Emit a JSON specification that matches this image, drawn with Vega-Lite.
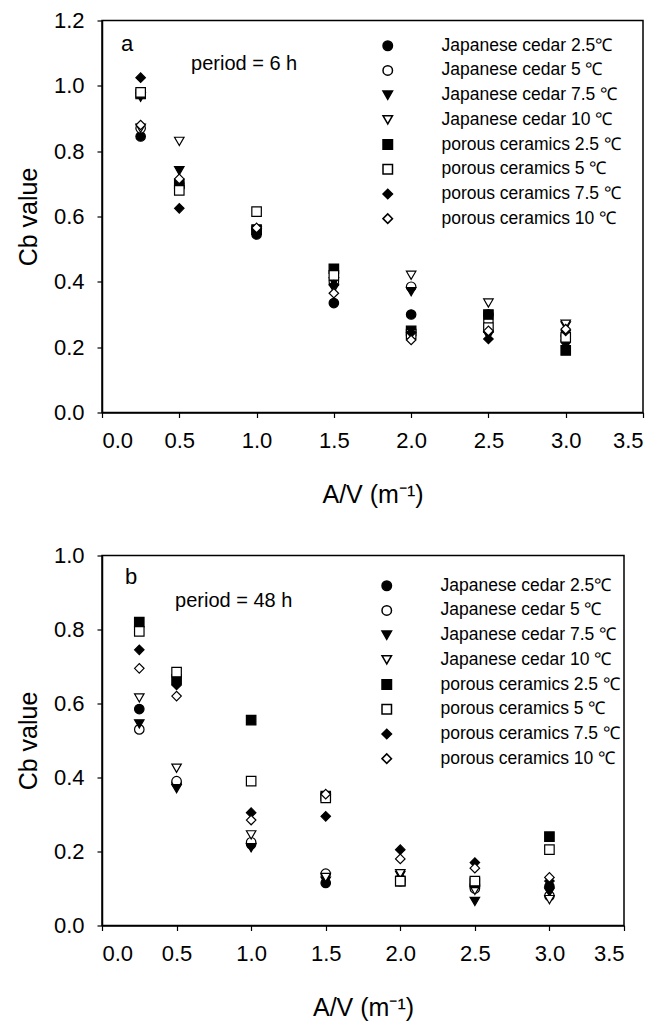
{
  "$schema": "https://vega.github.io/schema/vega-lite/v6.json",
  "padding": {"left": 15, "top": 8.5, "right": 5, "bottom": 5},
  "background": "white",
  "datasets": {
    "a": [
      {"series": "Japanese cedar 2.5℃", "av": 0.25, "cb": 0.845},
      {"series": "Japanese cedar 2.5℃", "av": 0.5, "cb": 0.70},
      {"series": "Japanese cedar 2.5℃", "av": 1.0, "cb": 0.545},
      {"series": "Japanese cedar 2.5℃", "av": 1.5, "cb": 0.335},
      {"series": "Japanese cedar 2.5℃", "av": 2.0, "cb": 0.30},
      {"series": "Japanese cedar 2.5℃", "av": 2.5, "cb": 0.30},
      {"series": "Japanese cedar 2.5℃", "av": 3.0, "cb": 0.22},
      {"series": "Japanese cedar 5 ℃", "av": 0.25, "cb": 0.87},
      {"series": "Japanese cedar 5 ℃", "av": 0.5, "cb": 0.69},
      {"series": "Japanese cedar 5 ℃", "av": 1.0, "cb": 0.555},
      {"series": "Japanese cedar 5 ℃", "av": 1.5, "cb": 0.40},
      {"series": "Japanese cedar 5 ℃", "av": 2.0, "cb": 0.385},
      {"series": "Japanese cedar 5 ℃", "av": 2.5, "cb": 0.28},
      {"series": "Japanese cedar 5 ℃", "av": 3.0, "cb": 0.235},
      {"series": "Japanese cedar 7.5 ℃", "av": 0.25, "cb": 0.965},
      {"series": "Japanese cedar 7.5 ℃", "av": 0.5, "cb": 0.74},
      {"series": "Japanese cedar 7.5 ℃", "av": 1.0, "cb": 0.55},
      {"series": "Japanese cedar 7.5 ℃", "av": 1.5, "cb": 0.40},
      {"series": "Japanese cedar 7.5 ℃", "av": 2.0, "cb": 0.37},
      {"series": "Japanese cedar 7.5 ℃", "av": 2.5, "cb": 0.235},
      {"series": "Japanese cedar 7.5 ℃", "av": 3.0, "cb": 0.265},
      {"series": "Japanese cedar 10 ℃", "av": 0.25, "cb": 0.87},
      {"series": "Japanese cedar 10 ℃", "av": 0.5, "cb": 0.83},
      {"series": "Japanese cedar 10 ℃", "av": 1.0, "cb": 0.555},
      {"series": "Japanese cedar 10 ℃", "av": 1.5, "cb": 0.38},
      {"series": "Japanese cedar 10 ℃", "av": 2.0, "cb": 0.42},
      {"series": "Japanese cedar 10 ℃", "av": 2.5, "cb": 0.335},
      {"series": "Japanese cedar 10 ℃", "av": 3.0, "cb": 0.27},
      {"series": "porous ceramics 2.5 ℃", "av": 0.25, "cb": 0.975},
      {"series": "porous ceramics 2.5 ℃", "av": 0.5, "cb": 0.70},
      {"series": "porous ceramics 2.5 ℃", "av": 1.0, "cb": 0.56},
      {"series": "porous ceramics 2.5 ℃", "av": 1.5, "cb": 0.44},
      {"series": "porous ceramics 2.5 ℃", "av": 2.0, "cb": 0.25},
      {"series": "porous ceramics 2.5 ℃", "av": 2.5, "cb": 0.30},
      {"series": "porous ceramics 2.5 ℃", "av": 3.0, "cb": 0.19},
      {"series": "porous ceramics 5 ℃", "av": 0.25, "cb": 0.98},
      {"series": "porous ceramics 5 ℃", "av": 0.5, "cb": 0.68},
      {"series": "porous ceramics 5 ℃", "av": 1.0, "cb": 0.615},
      {"series": "porous ceramics 5 ℃", "av": 1.5, "cb": 0.42},
      {"series": "porous ceramics 5 ℃", "av": 2.0, "cb": 0.24},
      {"series": "porous ceramics 5 ℃", "av": 2.5, "cb": 0.26},
      {"series": "porous ceramics 5 ℃", "av": 3.0, "cb": 0.23},
      {"series": "porous ceramics 7.5 ℃", "av": 0.25, "cb": 1.025},
      {"series": "porous ceramics 7.5 ℃", "av": 0.5, "cb": 0.625},
      {"series": "porous ceramics 7.5 ℃", "av": 1.0, "cb": 0.56},
      {"series": "porous ceramics 7.5 ℃", "av": 1.5, "cb": 0.39},
      {"series": "porous ceramics 7.5 ℃", "av": 2.0, "cb": 0.245},
      {"series": "porous ceramics 7.5 ℃", "av": 2.5, "cb": 0.225},
      {"series": "porous ceramics 7.5 ℃", "av": 3.0, "cb": 0.25},
      {"series": "porous ceramics 10 ℃", "av": 0.25, "cb": 0.88},
      {"series": "porous ceramics 10 ℃", "av": 0.5, "cb": 0.715},
      {"series": "porous ceramics 10 ℃", "av": 1.0, "cb": 0.565},
      {"series": "porous ceramics 10 ℃", "av": 1.5, "cb": 0.365},
      {"series": "porous ceramics 10 ℃", "av": 2.0, "cb": 0.222},
      {"series": "porous ceramics 10 ℃", "av": 2.5, "cb": 0.25},
      {"series": "porous ceramics 10 ℃", "av": 3.0, "cb": 0.255}
    ],
    "b": [
      {"series": "Japanese cedar 2.5℃", "av": 0.25, "cb": 0.585},
      {"series": "Japanese cedar 2.5℃", "av": 0.5, "cb": 0.385},
      {"series": "Japanese cedar 2.5℃", "av": 1.0, "cb": 0.22},
      {"series": "Japanese cedar 2.5℃", "av": 1.5, "cb": 0.115},
      {"series": "Japanese cedar 2.5℃", "av": 2.0, "cb": 0.125},
      {"series": "Japanese cedar 2.5℃", "av": 2.5, "cb": 0.11},
      {"series": "Japanese cedar 2.5℃", "av": 3.0, "cb": 0.105},
      {"series": "Japanese cedar 5 ℃", "av": 0.25, "cb": 0.53},
      {"series": "Japanese cedar 5 ℃", "av": 0.5, "cb": 0.39},
      {"series": "Japanese cedar 5 ℃", "av": 1.0, "cb": 0.225},
      {"series": "Japanese cedar 5 ℃", "av": 1.5, "cb": 0.14},
      {"series": "Japanese cedar 5 ℃", "av": 2.0, "cb": 0.12},
      {"series": "Japanese cedar 5 ℃", "av": 2.5, "cb": 0.10},
      {"series": "Japanese cedar 5 ℃", "av": 3.0, "cb": 0.08},
      {"series": "Japanese cedar 7.5 ℃", "av": 0.25, "cb": 0.545},
      {"series": "Japanese cedar 7.5 ℃", "av": 0.5, "cb": 0.37},
      {"series": "Japanese cedar 7.5 ℃", "av": 1.0, "cb": 0.21},
      {"series": "Japanese cedar 7.5 ℃", "av": 1.5, "cb": 0.12},
      {"series": "Japanese cedar 7.5 ℃", "av": 2.0, "cb": 0.135},
      {"series": "Japanese cedar 7.5 ℃", "av": 2.5, "cb": 0.065},
      {"series": "Japanese cedar 7.5 ℃", "av": 3.0, "cb": 0.09},
      {"series": "Japanese cedar 10 ℃", "av": 0.25, "cb": 0.615},
      {"series": "Japanese cedar 10 ℃", "av": 0.5, "cb": 0.425},
      {"series": "Japanese cedar 10 ℃", "av": 1.0, "cb": 0.245},
      {"series": "Japanese cedar 10 ℃", "av": 1.5, "cb": 0.13},
      {"series": "Japanese cedar 10 ℃", "av": 2.0, "cb": 0.14},
      {"series": "Japanese cedar 10 ℃", "av": 2.5, "cb": 0.095},
      {"series": "Japanese cedar 10 ℃", "av": 3.0, "cb": 0.07},
      {"series": "porous ceramics 2.5 ℃", "av": 0.25, "cb": 0.82},
      {"series": "porous ceramics 2.5 ℃", "av": 0.5, "cb": 0.665},
      {"series": "porous ceramics 2.5 ℃", "av": 1.0, "cb": 0.555},
      {"series": "porous ceramics 2.5 ℃", "av": 1.5, "cb": 0.35},
      {"series": "porous ceramics 2.5 ℃", "av": 2.0, "cb": 0.12},
      {"series": "porous ceramics 2.5 ℃", "av": 2.5, "cb": 0.115},
      {"series": "porous ceramics 2.5 ℃", "av": 3.0, "cb": 0.24},
      {"series": "porous ceramics 5 ℃", "av": 0.25, "cb": 0.795},
      {"series": "porous ceramics 5 ℃", "av": 0.5, "cb": 0.685},
      {"series": "porous ceramics 5 ℃", "av": 1.0, "cb": 0.39},
      {"series": "porous ceramics 5 ℃", "av": 1.5, "cb": 0.345},
      {"series": "porous ceramics 5 ℃", "av": 2.0, "cb": 0.12},
      {"series": "porous ceramics 5 ℃", "av": 2.5, "cb": 0.12},
      {"series": "porous ceramics 5 ℃", "av": 3.0, "cb": 0.205},
      {"series": "porous ceramics 7.5 ℃", "av": 0.25, "cb": 0.745},
      {"series": "porous ceramics 7.5 ℃", "av": 0.5, "cb": 0.65},
      {"series": "porous ceramics 7.5 ℃", "av": 1.0, "cb": 0.305},
      {"series": "porous ceramics 7.5 ℃", "av": 1.5, "cb": 0.295},
      {"series": "porous ceramics 7.5 ℃", "av": 2.0, "cb": 0.205},
      {"series": "porous ceramics 7.5 ℃", "av": 2.5, "cb": 0.17},
      {"series": "porous ceramics 7.5 ℃", "av": 3.0, "cb": 0.12},
      {"series": "porous ceramics 10 ℃", "av": 0.25, "cb": 0.695},
      {"series": "porous ceramics 10 ℃", "av": 0.5, "cb": 0.62},
      {"series": "porous ceramics 10 ℃", "av": 1.0, "cb": 0.285},
      {"series": "porous ceramics 10 ℃", "av": 1.5, "cb": 0.355},
      {"series": "porous ceramics 10 ℃", "av": 2.0, "cb": 0.18},
      {"series": "porous ceramics 10 ℃", "av": 2.5, "cb": 0.155},
      {"series": "porous ceramics 10 ℃", "av": 3.0, "cb": 0.13}
    ]
  },
  "resolve": {
    "scale": {"x": "independent", "y": "independent", "shape": "independent", "fill": "independent"},
    "legend": {"shape": "independent", "fill": "independent"}
  },
  "spacing": 35,
  "vconcat": [
    {
      "width": 541,
      "height": 392,
      "layer": [
        {
          "data": {"name": "a"},
          "mark": {"type": "point", "filled": true, "size": 90, "stroke": "black", "strokeWidth": 1.2, "opacity": 1},
          "encoding": {
            "x": {"field": "av", "type": "quantitative", "scale": {"domain": [0, 3.5], "nice": false, "zero": false},
                  "axis": {"values": [0, 0.5, 1, 1.5, 2, 2.5, 3, 3.5], "format": ".1f", "title": "A/V (m⁻¹)"}},
            "y": {"field": "cb", "type": "quantitative", "scale": {"domain": [0, 1.2], "nice": false},
                  "axis": {"values": [0, 0.2, 0.4, 0.6, 0.8, 1.0, 1.2], "format": ".1f", "title": "Cb value"}},
            "shape": {"field": "series", "type": "nominal",
              "scale": {"domain": ["Japanese cedar 2.5℃", "Japanese cedar 5 ℃", "Japanese cedar 7.5 ℃", "Japanese cedar 10 ℃", "porous ceramics 2.5 ℃", "porous ceramics 5 ℃", "porous ceramics 7.5 ℃", "porous ceramics 10 ℃"],
                        "range": ["circle", "circle", "triangle-down", "triangle-down", "square", "square", "diamond", "diamond"]},
              "legend": {"title": null, "orient": "none", "legendX": 277, "legendY": 16.5, "labelFontSize": 17.5, "labelOffset": 45, "rowPadding": 5.7, "symbolSize": 90, "labelColor": "black", "labelLimit": 300,
                         "encode": {"symbols": {"update": {"stroke": {"value": "black"}, "strokeWidth": {"value": 1.2}, "size": {"value": 90}, "opacity": {"value": 1}}}}}},
            "fill": {"field": "series", "type": "nominal",
              "scale": {"domain": ["Japanese cedar 2.5℃", "Japanese cedar 5 ℃", "Japanese cedar 7.5 ℃", "Japanese cedar 10 ℃", "porous ceramics 2.5 ℃", "porous ceramics 5 ℃", "porous ceramics 7.5 ℃", "porous ceramics 10 ℃"],
                        "range": ["black", "white", "black", "white", "black", "white", "black", "white"]},
              "legend": {"title": null, "orient": "none", "legendX": 277, "legendY": 16.5, "labelFontSize": 17.5, "labelOffset": 45, "rowPadding": 5.7, "symbolSize": 90, "labelColor": "black", "labelLimit": 300,
                         "encode": {"symbols": {"update": {"stroke": {"value": "black"}, "strokeWidth": {"value": 1.2}, "size": {"value": 90}, "opacity": {"value": 1}}}}}}
          }
        },
        {
          "data": {"values": [{}]},
          "mark": {"type": "text", "align": "left", "baseline": "middle", "fontSize": 22, "color": "black"},
          "encoding": {"x": {"datum": 0.123, "type": "quantitative"}, "y": {"datum": 1.129, "type": "quantitative"}, "text": {"value": "a"}}
        },
        {
          "data": {"values": [{}]},
          "mark": {"type": "text", "align": "left", "baseline": "middle", "fontSize": 20, "color": "black"},
          "encoding": {"x": {"datum": 0.576, "type": "quantitative"}, "y": {"datum": 1.066, "type": "quantitative"}, "text": {"value": "period = 6 h"}}
        }
      ]
    },
    {
      "width": 522,
      "height": 370,
      "layer": [
        {
          "data": {"name": "b"},
          "mark": {"type": "point", "filled": true, "size": 90, "stroke": "black", "strokeWidth": 1.2, "opacity": 1},
          "encoding": {
            "x": {"field": "av", "type": "quantitative", "scale": {"domain": [0, 3.5], "nice": false, "zero": false},
                  "axis": {"values": [0, 0.5, 1, 1.5, 2, 2.5, 3, 3.5], "format": ".1f", "title": "A/V (m⁻¹)"}},
            "y": {"field": "cb", "type": "quantitative", "scale": {"domain": [0, 1.0], "nice": false},
                  "axis": {"values": [0, 0.2, 0.4, 0.6, 0.8, 1.0], "format": ".1f", "title": "Cb value"}},
            "shape": {"field": "series", "type": "nominal",
              "scale": {"domain": ["Japanese cedar 2.5℃", "Japanese cedar 5 ℃", "Japanese cedar 7.5 ℃", "Japanese cedar 10 ℃", "porous ceramics 2.5 ℃", "porous ceramics 5 ℃", "porous ceramics 7.5 ℃", "porous ceramics 10 ℃"],
                        "range": ["circle", "circle", "triangle-down", "triangle-down", "square", "square", "diamond", "diamond"]},
              "legend": {"title": null, "orient": "none", "legendX": 276, "legendY": 21.5, "labelFontSize": 17.5, "labelOffset": 45, "rowPadding": 5.7, "symbolSize": 90, "labelColor": "black", "labelLimit": 300,
                         "encode": {"symbols": {"update": {"stroke": {"value": "black"}, "strokeWidth": {"value": 1.2}, "size": {"value": 90}, "opacity": {"value": 1}}}}}},
            "fill": {"field": "series", "type": "nominal",
              "scale": {"domain": ["Japanese cedar 2.5℃", "Japanese cedar 5 ℃", "Japanese cedar 7.5 ℃", "Japanese cedar 10 ℃", "porous ceramics 2.5 ℃", "porous ceramics 5 ℃", "porous ceramics 7.5 ℃", "porous ceramics 10 ℃"],
                        "range": ["black", "white", "black", "white", "black", "white", "black", "white"]},
              "legend": {"title": null, "orient": "none", "legendX": 276, "legendY": 21.5, "labelFontSize": 17.5, "labelOffset": 45, "rowPadding": 5.7, "symbolSize": 90, "labelColor": "black", "labelLimit": 300,
                         "encode": {"symbols": {"update": {"stroke": {"value": "black"}, "strokeWidth": {"value": 1.2}, "size": {"value": 90}, "opacity": {"value": 1}}}}}}
          }
        },
        {
          "data": {"values": [{}]},
          "mark": {"type": "text", "align": "left", "baseline": "middle", "fontSize": 22, "color": "black"},
          "encoding": {"x": {"datum": 0.155, "type": "quantitative"}, "y": {"datum": 0.942, "type": "quantitative"}, "text": {"value": "b"}}
        },
        {
          "data": {"values": [{}]},
          "mark": {"type": "text", "align": "left", "baseline": "middle", "fontSize": 20, "color": "black"},
          "encoding": {"x": {"datum": 0.49, "type": "quantitative"}, "y": {"datum": 0.878, "type": "quantitative"}, "text": {"value": "period = 48 h"}}
        }
      ]
    }
  ],
  "config": {
    "font": "Liberation Sans",
    "view": {"stroke": "black", "strokeWidth": 1.5},
    "axis": {
      "grid": false, "domainColor": "black", "domainWidth": 1.5, "tickColor": "black", "tickWidth": 1.2, "tickSize": 5,
      "labelFontSize": 22, "labelColor": "black", "labelPadding": 13, "labelFont": "Liberation Sans",
      "titleFontSize": 25, "titleFontWeight": "normal", "titleColor": "black", "titleFont": "Liberation Sans"
    },
    "axisX": {"titlePadding": 31},
    "axisY": {"titlePadding": 12},
    "legend": {"labelFont": "Liberation Sans"}
  }
}
